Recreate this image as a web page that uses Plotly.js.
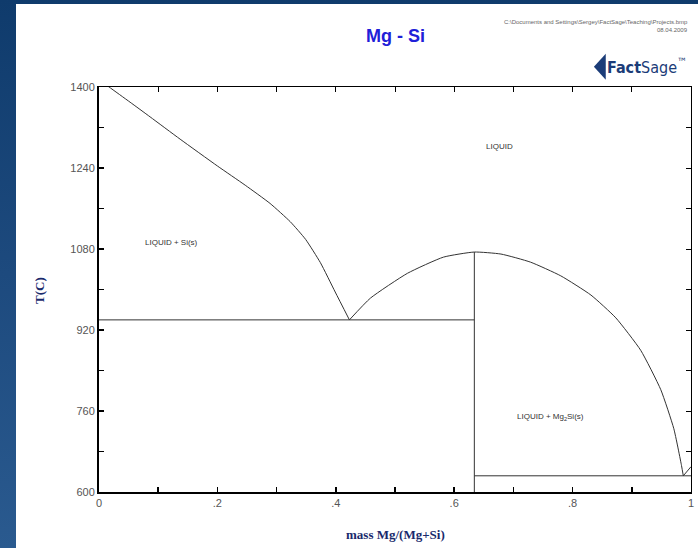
<!DOCTYPE html>
<html>
<head>
<meta charset="utf-8">
<script src="https://cdn.plot.ly/plotly-3.0.1.min.js"></script>
<style>
  html, body { margin: 0; padding: 0; width: 698px; height: 548px; overflow: hidden;
    background: linear-gradient(to bottom, #0f3b6c 0%, #1d4a7e 50%, #2a5a8f 100%); }
  #chart { position: absolute; left: 16px; top: 4px; width: 682px; height: 544px; background: #fff; }
</style>
</head>
<body>
<div id="chart"></div>
<script>
// Si-side liquidus
const siLiqX = [0, 0.017, 0.0525, 0.0863, 0.137, 0.2, 0.247, 0.289, 0.323, 0.349, 0.374, 0.399, 0.423];
const siLiqT = [1414, 1400, 1370, 1341, 1297, 1244, 1206, 1170, 1134, 1099, 1053, 995, 940];
// Mg2Si liquidus
const mg2siLiqX = [0.423, 0.4585, 0.521, 0.582, 0.634, 0.679, 0.729, 0.78, 0.831, 0.873, 0.915, 0.949, 0.971, 0.984, 0.987];
const mg2siLiqT = [940, 983, 1032, 1064, 1074, 1070, 1054, 1027, 989, 944, 880, 802, 725, 652, 632];
// Mg-side liquidus
const mgLiqX = [0.987, 1];
const mgLiqT = [632, 650];
// Eutectic lines and Mg2Si line compound
const eut1X = [0, 0.634];
const eut1T = [940, 940];
const eut2X = [0.634, 1];
const eut2T = [632, 632];
const compX = [0.634, 0.634];
const compT = [600, 1074];

const xTickVals = [0, 0.2, 0.4, 0.6, 0.8, 1];
const xTickText = ['0', '.2', '.4', '.6', '.8', '1'];
const yTickVals = [600, 760, 920, 1080, 1240, 1400];

const regionLabels = ['LIQUID', 'LIQUID + Si(s)', 'LIQUID + Mg<sub>2</sub>Si(s)'];
const regionX = [0.677, 0.122, 0.763];
const regionT = [1283, 1092, 748];

const lineStyle = {color: '#333333', width: 1};
const mk = (x, y, shape) => ({x: x, y: y, mode: 'lines', type: 'scatter', line: Object.assign({}, lineStyle, shape ? {shape: shape, smoothing: 0.5} : {}), hoverinfo: 'skip', showlegend: false});

const traces = [
  mk(siLiqX, siLiqT, 'spline'),
  mk(mg2siLiqX, mg2siLiqT, 'spline'),
  mk(mgLiqX, mgLiqT),
  mk(eut1X, eut1T),
  mk(eut2X, eut2T),
  mk(compX, compT)
];

const tickFont = {family: 'Liberation Sans, Arial, sans-serif', size: 11, color: '#555555'};
const serifTitle = {family: 'Liberation Serif, Times New Roman, serif', size: 13, color: '#1a2a6c'};

const annotations = regionLabels.map((t, i) => ({
  x: regionX[i], y: regionT[i], xref: 'x', yref: 'y', text: t, showarrow: false,
  font: {family: 'Liberation Sans, Arial, sans-serif', size: 8, color: '#333333'}
}));
annotations.push(
  {x: 0.5, y: -0.106, xref: 'paper', yref: 'paper', text: '<b>mass Mg/(Mg+Si)</b>', showarrow: false, font: serifTitle, xanchor: 'center', yanchor: 'middle'},
  {x: -0.0997, y: 0.499, xref: 'paper', yref: 'paper', text: '<b>T(C)</b>', textangle: -90, showarrow: false, font: serifTitle, xanchor: 'center', yanchor: 'middle'},
  {x: 0.5, y: 1.126, xref: 'paper', yref: 'paper', text: '<b>Mg - Si</b>', showarrow: false, font: {family: 'Liberation Sans, Arial, sans-serif', size: 18, color: '#2020d8'}, xanchor: 'center', yanchor: 'middle'},
  {x: 0.998, y: 1.16, xref: 'paper', yref: 'paper', text: 'C:\\Documents and Settings\\Sergey\\FactSage\\Teaching\\Projects.bmp', showarrow: false, font: {family: 'Liberation Sans, Arial, sans-serif', size: 6, color: '#666666'}, xanchor: 'right', yanchor: 'middle'},
  {x: 0.998, y: 1.141, xref: 'paper', yref: 'paper', text: '08.04.2009', showarrow: false, font: {family: 'Liberation Sans, Arial, sans-serif', size: 6, color: '#666666'}, xanchor: 'right', yanchor: 'middle'},
  {x: 0.925, y: 1.05, xref: 'paper', yref: 'paper', text: '<b>Fact</b>Sage<sup>™</sup>', showarrow: false, font: {family: 'DejaVu Sans Condensed, Liberation Sans Narrow, sans-serif', size: 16, color: '#1b3c78'}, xanchor: 'center', yanchor: 'middle'}
);

const layout = {
  width: 682, height: 544,
  margin: {l: 83, r: 7, t: 83, b: 56},
  paper_bgcolor: '#ffffff', plot_bgcolor: '#ffffff',
  showlegend: false,
  xaxis: {
    range: [0, 1], tickvals: xTickVals, ticktext: xTickText, ticks: 'inside', ticklen: 5, tickwidth: 1.5, tickcolor: '#000',
    showline: true, linewidth: 2, linecolor: '#000', showgrid: false, zeroline: false, tickfont: tickFont,
    minor: {dtick: 0.1, ticks: 'inside', ticklen: 5, tickwidth: 1.5, tickcolor: '#000'}
  },
  yaxis: {
    range: [600, 1400], tickvals: yTickVals, ticks: 'inside', ticklen: 5, tickwidth: 1.5, tickcolor: '#000',
    showline: true, linewidth: 2, linecolor: '#000', showgrid: false, zeroline: false, tickfont: tickFont,
    minor: {dtick: 80, tick0: 600, ticks: 'inside', ticklen: 5, tickwidth: 1.5, tickcolor: '#000'}
  },
  xaxis2: {
    overlaying: 'x', side: 'top', matches: 'x', range: [0, 1], tickvals: xTickVals, showticklabels: false,
    ticks: 'inside', ticklen: 5, tickwidth: 1, tickcolor: '#000', showline: true, linewidth: 1, linecolor: '#000', showgrid: false, zeroline: false,
    minor: {dtick: 0.1, ticks: 'inside', ticklen: 5, tickwidth: 1, tickcolor: '#000'}
  },
  yaxis2: {
    overlaying: 'y', side: 'right', matches: 'y', range: [600, 1400], tickvals: yTickVals, showticklabels: false,
    ticks: 'inside', ticklen: 5, tickwidth: 1, tickcolor: '#000', showline: true, linewidth: 1, linecolor: '#000', showgrid: false, zeroline: false,
    minor: {dtick: 80, tick0: 600, ticks: 'inside', ticklen: 5, tickwidth: 1, tickcolor: '#000'}
  },
  annotations: annotations,
  shapes: [
    {type: 'path', xref: 'paper', yref: 'paper', path: 'M 0.836 1.05 L 0.856 1.082 L 0.856 1.018 Z', fillcolor: '#1b3c78', line: {width: 0}}
  ]
};

// invisible trace to activate the mirrored axes
traces.push({x: [0, 1], y: [600, 1400], xaxis: 'x2', yaxis: 'y2', mode: 'lines', line: {width: 0}, opacity: 0, hoverinfo: 'skip', showlegend: false});

Plotly.newPlot('chart', traces, layout, {displayModeBar: false, staticPlot: true});
</script>
</body>
</html>
